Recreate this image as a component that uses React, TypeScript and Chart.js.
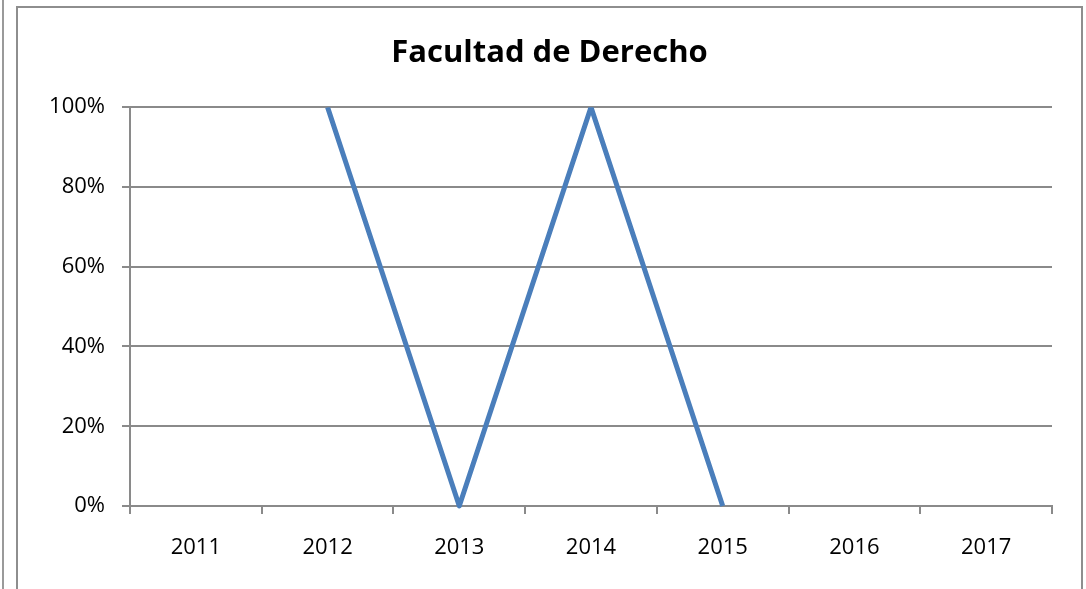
import React, { useEffect, useRef } from "react";
import { Chart, registerables } from "chart.js";

Chart.register(...registerables);

const categories = ["2011", "2012", "2013", "2014", "2015", "2016", "2017"];
const seriesValues: (number | null)[] = [null, 1, 0, 1, 0, null, null];
const yTicks = [0, 0.2, 0.4, 0.6, 0.8, 1];
const chartTitle = "Facultad de Derecho";

const FONT = "'Open Sans', 'Noto Sans', sans-serif";
const GRID = "#8a8a8a";

export default function App() {
  const ref = useRef<HTMLCanvasElement | null>(null);

  useEffect(() => {
    document.body.style.margin = "0";
    if (!ref.current) return;
    const chart = new Chart(ref.current, {
      type: "line",
      data: {
        labels: categories,
        datasets: [
          {
            data: seriesValues,
            borderColor: "#4A7EBB",
            backgroundColor: "#4A7EBB",
            borderWidth: 5,
            pointRadius: 0,
            pointHoverRadius: 0,
            tension: 0,
            borderJoinStyle: "round",
            clip: { top: 0, bottom: 5, left: 5, right: 5 } as any,
          },
        ],
      },
      options: {
        responsive: false,
        animation: false,
        layout: { padding: { left: 17, right: 4, top: 0, bottom: 0 } },
        plugins: {
          legend: { display: false },
          tooltip: { enabled: false },
          title: {
            display: true,
            text: chartTitle,
            color: "#000",
            font: { family: FONT, size: 31, weight: "bold" },
            padding: { top: 35, bottom: 35 },
          },
        },
        scales: {
          x: {
            type: "category",
            offset: true,
            grid: {
              offset: true,
              drawOnChartArea: false,
              drawTicks: true,
              tickLength: 8,
              color: GRID,
              lineWidth: 2,
            },
            border: { display: true, color: GRID, width: 2 },
            ticks: {
              color: "#000",
              font: { family: FONT, size: 22 },
              padding: 21,
              maxRotation: 0,
              autoSkip: false,
            },
            afterFit: (s: any) => {
              s.height = 83;
            },
          },
          y: {
            min: 0,
            max: 1,
            afterBuildTicks: (s: any) => {
              s.ticks = yTicks.map((v) => ({ value: v }));
            },
            grid: {
              drawTicks: true,
              tickLength: 8,
              color: GRID,
              lineWidth: 2,
            },
            border: { display: true, color: GRID, width: 2 },
            ticks: {
              color: "#000",
              font: { family: FONT, size: 22 },
              padding: 17,
              callback: (v: any) => Math.round(Number(v) * 100) + "%",
            },
            afterFit: (s: any) => {
              s.width = 113;
            },
          },
          yRightSpace: {
            position: "right",
            display: true,
            grid: { display: false },
            border: { display: false },
            ticks: { display: false },
            afterFit: (s: any) => {
              s.width = 30;
            },
          },
        },
      },
    });
    return () => chart.destroy();
  }, []);

  return (
    <div
      style={{
        position: "fixed",
        left: 0,
        top: 0,
        width: 1086,
        height: 589,
        background: "#fff",
        overflow: "hidden",
      }}
    >
      <div
        style={{
          position: "absolute",
          left: 2,
          top: 0,
          width: 2,
          height: 589,
          background: "#9a9a9a",
        }}
      />
      <div
        style={{
          position: "absolute",
          left: 16,
          top: 6,
          width: 1067,
          height: 640,
          border: "2px solid #8e8e8e",
          boxSizing: "border-box",
        }}
      />
      <canvas
        ref={ref}
        width={1086}
        height={589}
        style={{ position: "absolute", left: 0, top: 0 }}
      />
    </div>
  );
}
